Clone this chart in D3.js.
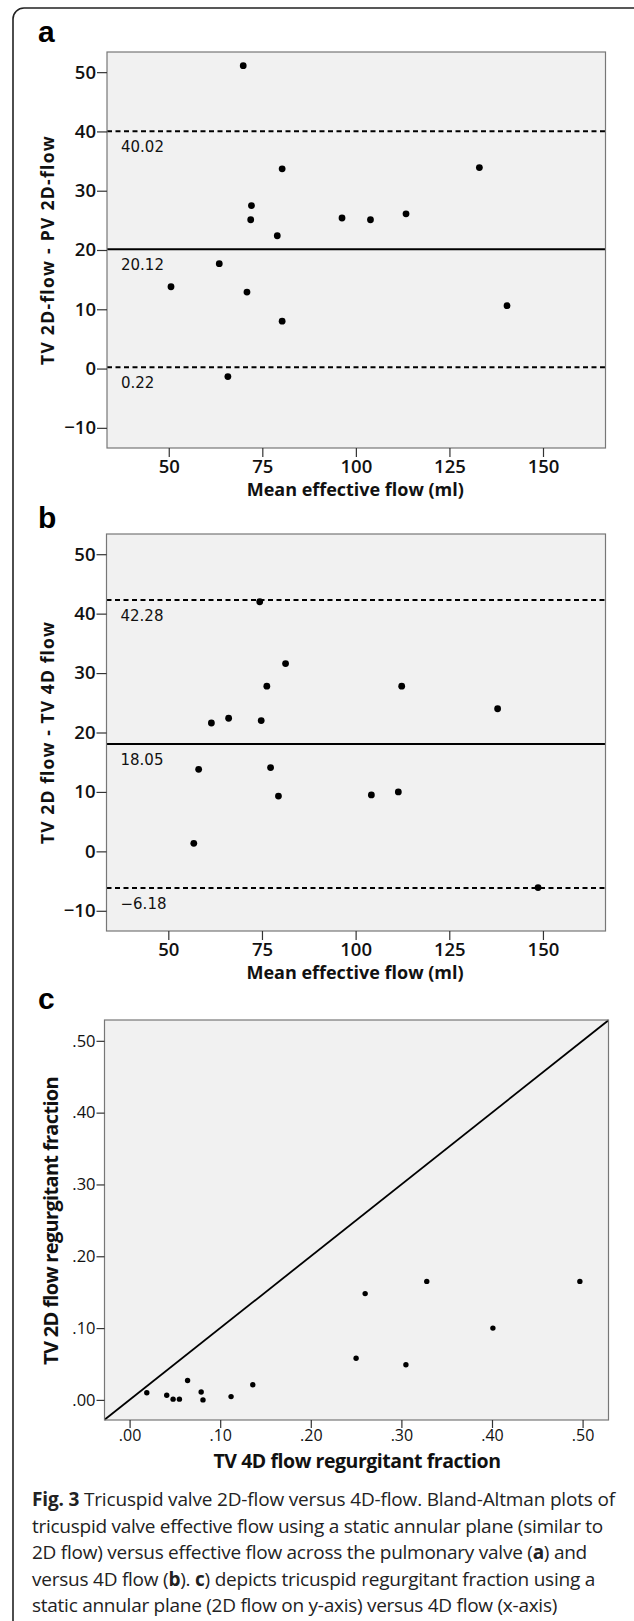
<!DOCTYPE html>
<html>
<head>
<meta charset="utf-8">
<title>Fig. 3</title>
<script src="https://d3js.org/d3.v7.min.js"></script>
<style>
    html, body { margin: 0; padding: 0; background: #fff; }
    svg { display: block; }
</style>
</head>
<body>
<div id="chart"></div>
<script>
    // ---- data ----
    const flowTicks = [50, 75, 100, 125, 150];
    const diffTicks = [-10, 0, 10, 20, 30, 40, 50];
    const fracTicks = [0, 0.1, 0.2, 0.3, 0.4, 0.5];

    // panel a: TV 2D-flow - PV 2D-flow
    const aMean = [69.9, 80.3, 133.0, 72.1, 71.9, 79.0, 96.3, 103.9, 113.4, 63.5, 50.6, 70.9, 80.3, 140.4, 65.8];
    const aDiff = [51.1, 33.7, 33.9, 27.5, 25.1, 22.4, 25.4, 25.1, 26.1, 17.7, 13.8, 12.9, 8.0, 10.6, -1.35];
    const aLimits = [40.02, 20.12, 0.22];

    // panel b: TV 2D flow - TV 4D flow
    const bMean = [74.4, 81.3, 76.3, 112.3, 137.9, 61.5, 66.1, 74.8, 58.1, 77.3, 79.4, 104.2, 111.4, 56.8, 148.7];
    const bDiff = [42.0, 31.6, 27.8, 27.8, 24.0, 21.6, 22.4, 22.0, 13.8, 14.1, 9.3, 9.5, 10.0, 1.35, -6.1];
    const bLimits = [42.28, 18.05, -6.18];

    // panel c: regurgitant fraction, 4D (x) vs 2D (y)
    const c4D = [0.019, 0.041, 0.048, 0.055, 0.064, 0.079, 0.081, 0.112, 0.136, 0.250, 0.260, 0.305, 0.328, 0.401, 0.497];
    const c2D = [0.010, 0.0065, 0.001, 0.001, 0.027, 0.011, 0.000, 0.0046, 0.021, 0.058, 0.148, 0.049, 0.165, 0.100, 0.165];

    const limitStyles = ["dash", "solid", "dash"];

    const caption = [
        [["Fig. 3", true], [" Tricuspid valve 2D-flow versus 4D-flow. Bland-Altman plots of", false]],
        [["tricuspid valve effective flow using a static annular plane (similar to", false]],
        [["2D flow) versus effective flow across the pulmonary valve (", false], ["a", true], [") and", false]],
        [["versus 4D flow (", false], ["b", true], ["). ", false], ["c", true], [") depicts tricuspid regurgitant fraction using a", false]],
        [["static annular plane (2D flow on y-axis) versus 4D flow (x-axis)", false]]
    ];
    const captionWidths = [583, 571, 555, 563, 525];

    // ---- canvas ----
    const W = 634, H = 1621;
    const svg = d3.select("#chart").append("svg")
        .attr("width", W).attr("height", H);

    // outer frame (right side runs off the crop)
    svg.append("rect")
        .attr("x", 13).attr("y", 8)
        .attr("width", 632).attr("height", 1640)
        .attr("rx", 11)
        .attr("fill", "none")
        .attr("stroke", "#222")
        .attr("stroke-width", 1.6);

    const chartFont = "'Open Sans', sans-serif";

    // squeeze / stretch a text to a measured width with letter-spacing
    function fitWidth(sel, target) {
        const node = sel.node();
        const len = node.getComputedTextLength();
        const n = node.textContent.length;
        if (n > 1) sel.style("letter-spacing", ((target - len) / n).toFixed(3) + "px");
    }

    function panelLetter(letter, y) {
        svg.append("text")
            .attr("x", 38).attr("y", y)
            .style("font-family", "'Liberation Sans', Arial, sans-serif")
            .style("font-weight", "bold")
            .style("font-size", "30px")
            .text(letter);
    }

    function plotFrame(box) {
        svg.append("rect")
            .attr("x", box.left).attr("y", box.top)
            .attr("width", box.right - box.left)
            .attr("height", box.bottom - box.top)
            .attr("fill", "#f1f1f1");
    }

    function plotBorder(box) {
        svg.append("rect")
            .attr("x", box.left).attr("y", box.top)
            .attr("width", box.right - box.left)
            .attr("height", box.bottom - box.top)
            .attr("fill", "none")
            .attr("stroke", "#777")
            .attr("stroke-width", 1.2);
    }

    function styleAxis(g, size, weight) {
        g.select(".domain").remove();
        g.selectAll(".tick line").attr("stroke", "#333").attr("stroke-width", 1.2);
        g.selectAll(".tick text")
            .attr("fill", "#111")
            .style("font-family", chartFont)
            .style("font-size", size + "px")
            .style("font-weight", weight);
    }

    function axisTitle(text, x, y, len, size, rotate) {
        const t = svg.append("text")
            .attr("text-anchor", "middle")
            .attr("transform", rotate ? `translate(${x},${y}) rotate(-90)` : `translate(${x},${y})`)
            .style("font-family", chartFont)
            .style("font-size", size + "px")
            .style("font-weight", 700)
            .attr("fill", "#111")
            .text(text);
        fitWidth(t, len);
    }

    // ---- Bland-Altman panels ----
    function blandAltman(opt) {
        const box = opt.box;
        const x = d3.scaleLinear().domain([33.5, 166.7]).range([box.left, box.right]);
        const y = d3.scaleLinear().domain([-13.4, 53.4]).range([box.bottom, box.top]);

        plotFrame(box);

        // limits of agreement and mean
        opt.limits.forEach((v, i) => {
            svg.append("line")
                .attr("x1", box.left).attr("x2", box.right)
                .attr("y1", y(v)).attr("y2", y(v))
                .attr("stroke", "#000")
                .attr("stroke-width", 2)
                .attr("stroke-dasharray", limitStyles[i] === "dash" ? "5,3.5" : null);

            svg.append("text")
                .attr("x", box.left + 14)
                .attr("y", y(v) + 21)
                .style("font-family", "'DejaVu Sans', sans-serif")
                .style("font-size", "15px")
                .attr("fill", "#111")
                .text(d3.format(".2f")(v));
        });

        plotBorder(box);

        svg.append("g")
            .attr("transform", `translate(${box.left},0)`)
            .call(d3.axisLeft(y).tickValues(diffTicks).tickSize(10).tickPadding(1).tickSizeOuter(0))
            .call(g => styleAxis(g, 18.5, 600));

        svg.append("g")
            .attr("transform", `translate(0,${box.bottom})`)
            .call(d3.axisBottom(x).tickValues(flowTicks).tickSize(9).tickPadding(3).tickSizeOuter(0))
            .call(g => styleAxis(g, 18.5, 600));

        svg.append("g")
            .selectAll("circle")
            .data(opt.mean.map((m, i) => ({ m: m, d: opt.diff[i] })))
            .join("circle")
            .attr("cx", d => x(d.m))
            .attr("cy", d => y(d.d))
            .attr("r", 3.4)
            .attr("fill", "#000");

        const cx = (box.left + box.right) / 2;
        const cy = (box.top + box.bottom) / 2;
        axisTitle("Mean effective flow (ml)", cx - 1, box.bottom + 48, 217, 18, false);
        axisTitle(opt.yTitle, 54, cy, opt.yLen, 17.5, true);
    }

    panelLetter("a", 42);
    blandAltman({
        box: { left: 107, right: 605.5, top: 52, bottom: 448 },
        mean: aMean, diff: aDiff, limits: aLimits,
        yTitle: "TV 2D-flow - PV 2D-flow", yLen: 230
    });

    panelLetter("b", 528);
    blandAltman({
        box: { left: 106.5, right: 605.5, top: 534, bottom: 931 },
        mean: bMean, diff: bDiff, limits: bLimits,
        yTitle: "TV 2D flow - TV 4D flow", yLen: 223
    });

    // ---- panel c ----
    panelLetter("c", 1009);
    (function () {
        const box = { left: 104.5, right: 608.5, top: 1020, bottom: 1420 };
        const x = d3.scaleLinear().domain([-0.0277, 0.5286]).range([box.left, box.right]);
        const y = d3.scaleLinear().domain([-0.028, 0.529]).range([box.bottom, box.top]);
        const fmt = d => d3.format(".2f")(d).replace(/^0/, "");

        plotFrame(box);

        // line of identity
        const lo = Math.max(x.domain()[0], y.domain()[0]);
        const hi = Math.min(x.domain()[1], y.domain()[1]);
        svg.append("line")
            .attr("x1", x(lo)).attr("y1", y(lo))
            .attr("x2", x(hi)).attr("y2", y(hi))
            .attr("stroke", "#000")
            .attr("stroke-width", 1.8);

        plotBorder(box);

        svg.append("g")
            .attr("transform", `translate(${box.left},0)`)
            .call(d3.axisLeft(y).tickValues(fracTicks).tickFormat(fmt).tickSize(8).tickPadding(1).tickSizeOuter(0))
            .call(g => styleAxis(g, 16.5, 400));

        svg.append("g")
            .attr("transform", `translate(0,${box.bottom})`)
            .call(d3.axisBottom(x).tickValues(fracTicks).tickFormat(fmt).tickSize(8).tickPadding(2).tickSizeOuter(0))
            .call(g => styleAxis(g, 16, 400));

        svg.append("g")
            .selectAll("circle")
            .data(c4D.map((v, i) => ({ x: v, y: c2D[i] })))
            .join("circle")
            .attr("cx", d => x(d.x))
            .attr("cy", d => y(d.y))
            .attr("r", 2.7)
            .attr("fill", "#000");

        axisTitle("TV 4D flow regurgitant fraction", 357, 1468, 287, 19.5, false);
        axisTitle("TV 2D flow regurgitant fraction", 58, 1221, 288, 20, true);
    })();

    // ---- caption ----
    caption.forEach((parts, i) => {
        const t = svg.append("text")
            .attr("x", 32)
            .attr("y", 1506 + i * 26.6)
            .style("font-family", "'Open Sans', sans-serif")
            .style("font-size", "19px")
            .attr("fill", "#222");
        parts.forEach(p => {
            t.append("tspan")
                .style("font-weight", p[1] ? 700 : 400)
                .text(p[0]);
        });
        fitWidth(t, captionWidths[i]);
    });
</script>
</body>
</html>
